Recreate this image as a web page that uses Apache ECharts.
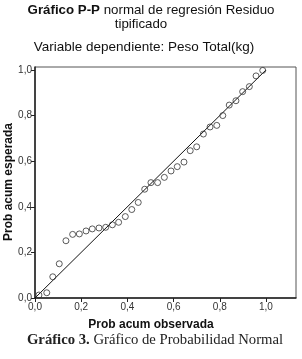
<!DOCTYPE html>
<html><head><meta charset="utf-8">
<script src="https://cdn.jsdelivr.net/npm/echarts@6/dist/echarts.min.js"></script>
<style>html,body{margin:0;padding:0;background:#fff}#c{width:302px;height:359px}</style>
</head><body><div id="c"></div>
<script>
// Observed cumulative probability (x) and expected cumulative probability (y)
var probObservada = [0.017,0.051,0.077,0.105,0.134,0.163,0.192,0.221,0.248,0.277,0.306,0.335,0.362,0.391,0.419,0.447,0.475,0.502,0.531,0.560,0.589,0.616,0.645,0.672,0.700,0.729,0.758,0.787,0.813,0.841,0.870,0.899,0.928,0.957,0.986];
var probEsperada  = [0.013,0.023,0.093,0.150,0.251,0.279,0.281,0.294,0.303,0.307,0.310,0.321,0.332,0.357,0.388,0.419,0.477,0.506,0.506,0.529,0.557,0.576,0.596,0.646,0.663,0.719,0.750,0.757,0.800,0.846,0.865,0.905,0.927,0.974,0.998];
var refLine = [[0,0],[1,1]];
var tickValues = [0,0.2,0.4,0.6,0.8,1.0];

var pts = probObservada.map(function(x,i){return [x, probEsperada[i]];});
function fmt(v){
  for (var i=0;i<tickValues.length;i++){ if (Math.abs(v-tickValues[i])<1e-6) return tickValues[i].toFixed(1).replace('.',','); }
  return '';
}
var sans = 'Liberation Sans, Arial, sans-serif';
var serif = 'Liberation Serif, Times New Roman, serif';
var chart = echarts.init(document.getElementById('c'), null, {renderer:'canvas'});
chart.setOption({
  backgroundColor:'#fff',
  animation:false,
  graphic:[
    {type:'text', left:'center', top:4, z:10, style:{
      text:'{b|Gráfico P-P}{n| normal de regresión Residuo}', x:0, y:0,
      rich:{b:{fontFamily:sans, fontSize:13.3, fontWeight:'bold', fill:'#111'},
            n:{fontFamily:sans, fontSize:13.3, fontWeight:'normal', fill:'#111'}}}},
    {type:'text', z:10, style:{text:'tipificado', x:141, y:18, align:'center', verticalAlign:'top',
      font:'normal 13.3px ' + sans, fill:'#111'}},
    {type:'text', z:10, style:{text:'Variable dependiente: Peso Total(kg)', x:144, y:40, align:'center', verticalAlign:'top',
      font:'normal 13.5px ' + sans, fill:'#111'}},
    {type:'text', z:10, style:{text:'Prob acum observada', x:151, y:319, align:'center', verticalAlign:'top',
      font:'bold 12px ' + sans, fill:'#111'}},
    {type:'text', z:10, x:9, y:182, rotation:Math.PI/2, style:{text:'Prob acum esperada', x:0, y:0, align:'center', verticalAlign:'middle',
      font:'bold 12px ' + sans, fill:'#111'}},
    {type:'text', z:10, style:{
      text:'{b|Gráfico 3.}{n| Gráfico de Probabilidad Normal}', x:155, y:333, align:'center', verticalAlign:'top',
      rich:{b:{fontFamily:serif, fontSize:14.7, fontWeight:'bold', fill:'#222'},
            n:{fontFamily:serif, fontSize:14.7, fontWeight:'normal', fill:'#222'}}}}
  ],
  grid:{left:35, top:67, right:6, bottom:61, show:true, borderColor:'#555', borderWidth:1, backgroundColor:'#fff'},
  xAxis:{type:'value', min:0, max:1.13, interval:0.2,
    axisLine:{show:true, lineStyle:{color:'#222', width:1.5}},
    axisTick:{show:true, length:4, lineStyle:{color:'#222'}},
    axisLabel:{formatter:fmt, fontFamily:sans, fontSize:10, color:'#333', margin:4, showMaxLabel:false},
    splitLine:{show:false}},
  yAxis:{type:'value', min:0, max:1.013, interval:0.2,
    axisLine:{show:true, lineStyle:{color:'#222', width:1.5}},
    axisTick:{show:true, length:4, lineStyle:{color:'#222'}},
    axisLabel:{formatter:fmt, fontFamily:sans, fontSize:10, color:'#333', margin:3, showMaxLabel:false},
    splitLine:{show:false}},
  series:[
    {type:'line', data:refLine, symbol:'none', lineStyle:{color:'#111', width:1}, silent:true, z:2},
    {type:'scatter', data:pts, symbol:'circle', symbolSize:6,
     itemStyle:{color:'rgba(255,255,255,0)', borderColor:'#333', borderWidth:1}, z:3}
  ]
});
</script></body></html>
